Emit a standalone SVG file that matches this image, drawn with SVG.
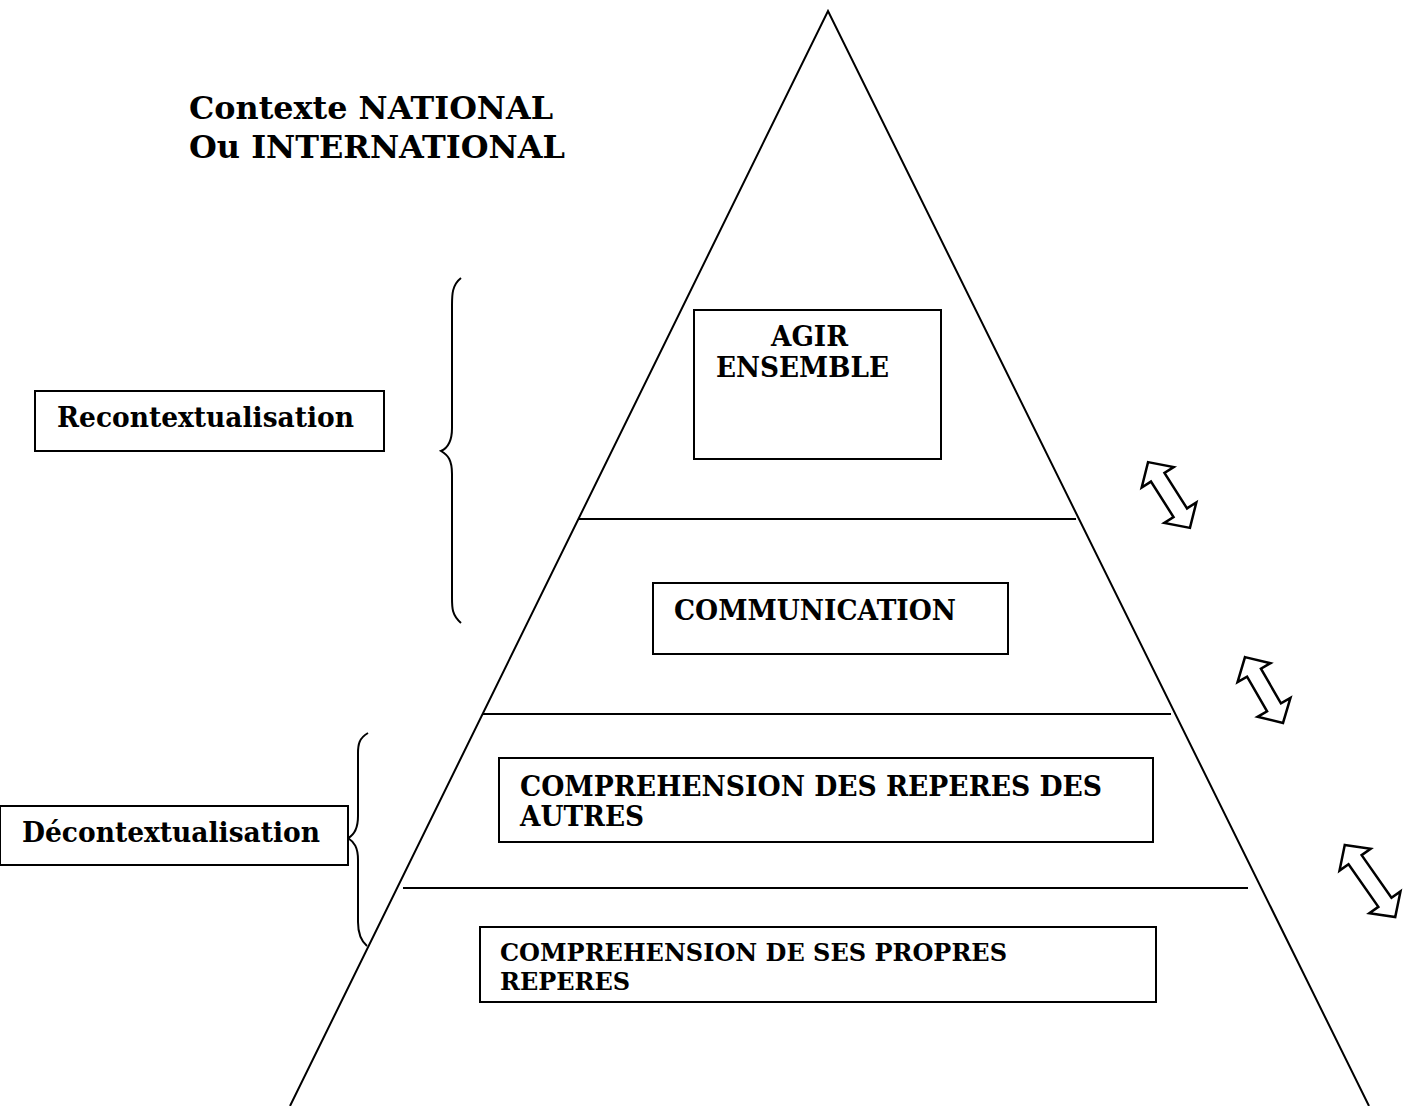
<svg xmlns="http://www.w3.org/2000/svg" width="1405" height="1106" viewBox="0 0 1405 1106">
<style>
.ln{stroke:#000;stroke-width:2;fill:none}
.bx{stroke:#000;stroke-width:2;fill:#fff}
.t{font-family:"DejaVu Serif","Liberation Serif",serif;font-weight:bold;fill:#000}
.ar{stroke:#000;stroke-width:2.5;fill:#fff;stroke-linejoin:miter}
</style>
<rect width="1405" height="1106" fill="#fff"/>
<g id="connectors">
<path class="ln" d="M290,1106 L828,11 L1369,1106"/>
<line class="ln" x1="579" y1="519" x2="1076" y2="519"/>
<line class="ln" x1="482" y1="714" x2="1171" y2="714"/>
<line class="ln" x1="403" y1="888" x2="1248" y2="888"/>
<path class="ln" d="M461,278 C452,285 452,295 452,305 L452,428 C452,442 448,448 441,451 C448,455 452,460 452,474 L452,598 C452,608 452,615 461,623"/>
<path class="ln" d="M368,733 C359,738 358,745 358,753 L358,816 C358,829 354,835 348,838 C354,842 358,847 358,860 L358,922 C358,932 360,940 367,946"/>
<path class="ar" transform="translate(1169,495) rotate(57.5)" d="M-39,0 L-21,-19 L-21,-8 L21,-8 L21,-19 L39,0 L21,19 L21,8 L-21,8 L-21,19 Z"/>
<path class="ar" transform="translate(1264,690) rotate(60)" d="M-38,0 L-20,-19 L-20,-8 L20,-8 L20,-19 L38,0 L20,19 L20,8 L-20,8 L-20,19 Z"/>
<path class="ar" transform="translate(1370,881) rotate(55)" d="M-44,0 L-26,-19 L-26,-8 L26,-8 L26,-19 L44,0 L26,19 L26,8 L-26,8 L-26,19 Z"/>
</g>
<g id="title">
<text class="t" x="189" y="119" font-size="32" textLength="364" lengthAdjust="spacingAndGlyphs">Contexte NATIONAL</text>
<text class="t" x="189" y="158" font-size="32" textLength="376" lengthAdjust="spacingAndGlyphs">Ou INTERNATIONAL</text>
</g>
<g id="recontextualisation">
<rect class="bx" x="35" y="391" width="349" height="60"/>
<text class="t" x="57" y="427" font-size="27" textLength="297" lengthAdjust="spacingAndGlyphs">Recontextualisation</text>
</g>
<g id="decontextualisation">
<rect class="bx" x="0" y="806" width="348" height="59"/>
<text class="t" x="22" y="842" font-size="27" textLength="298" lengthAdjust="spacingAndGlyphs">Décontextualisation</text>
</g>
<g id="agir">
<rect class="bx" x="694" y="310" width="247" height="149"/>
<text class="t" x="771" y="346" font-size="27" textLength="77" lengthAdjust="spacingAndGlyphs">AGIR</text>
<text class="t" x="716" y="377" font-size="27" textLength="173" lengthAdjust="spacingAndGlyphs">ENSEMBLE</text>
</g>
<g id="communication">
<rect class="bx" x="653" y="583" width="355" height="71"/>
<text class="t" x="674" y="620" font-size="27" textLength="282" lengthAdjust="spacingAndGlyphs">COMMUNICATION</text>
</g>
<g id="autres">
<rect class="bx" x="499" y="758" width="654" height="84"/>
<text class="t" x="520" y="796" font-size="27" textLength="582" lengthAdjust="spacingAndGlyphs">COMPREHENSION DES REPERES DES</text>
<text class="t" x="520" y="826" font-size="27" textLength="124" lengthAdjust="spacingAndGlyphs">AUTRES</text>
</g>
<g id="propres">
<rect class="bx" x="480" y="927" width="676" height="75"/>
<text class="t" x="500" y="961" font-size="24" textLength="507" lengthAdjust="spacingAndGlyphs">COMPREHENSION DE SES PROPRES</text>
<text class="t" x="500" y="990" font-size="24" textLength="130" lengthAdjust="spacingAndGlyphs">REPERES</text>
</g>
</svg>
